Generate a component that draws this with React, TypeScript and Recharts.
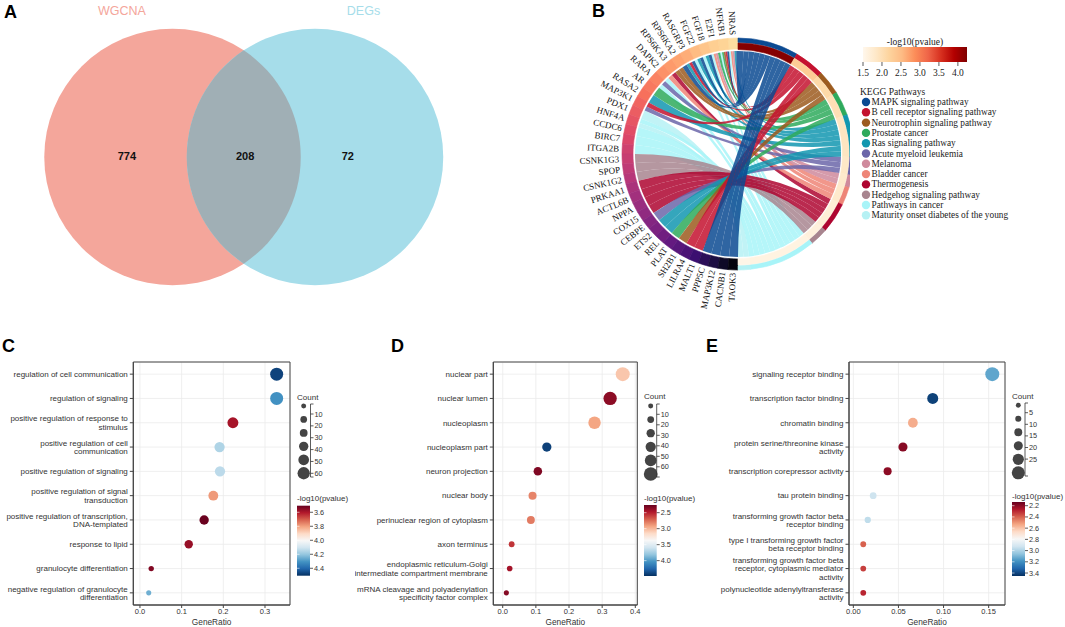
import React from "react";
import {
  ScatterChart,
  Scatter,
  XAxis,
  YAxis,
  ZAxis,
  CartesianGrid,
  ReferenceArea,
  PieChart,
  Pie,
  Cell,
  Customized,
} from "recharts";

const FONT_SANS = "'Liberation Sans', Arial, Helvetica, sans-serif";
const FONT_SERIF = "'Liberation Serif', 'Times New Roman', Times, serif";
const RAD = Math.PI / 180;

// ---------- A: Venn ----------
const vennSets = ["WGCNA", "DEGs"];
const vennSetColors = ["#F4A69B", "#A6DDEA"];
const vennOverlapColor = "#A0AFB5";
const vennRegionCounts = [774, 208, 72];

// ---------- B: KEGG chord ----------
const chordGenes = [
  "NRAS", "NFKB1", "E2F1", "FGF18", "FGF22", "RASGRP3", "RPS6KA2", "RPS6KA3", "DAPK2",
  "RARA", "AR", "RASA2", "MAP3K1", "PDX1", "HNF4A", "CCDC6", "BIRC7", "ITGA2B",
  "CSNK1G3", "SPOP", "CSNK1G2", "PRKAA1", "ACTL6B", "NPPA", "COX15", "CEBPE", "ETS2",
  "REL", "PLAT", "SH2B1", "LILRA4", "MALT1", "PPP5C", "MAP3K12", "CACNB1", "TAOK3",
];
// colour value of each gene segment (0 = black, 1 = pale yellow)
const geneShade = [
  0.93, 0.91, 0.9, 0.88, 0.86, 0.83, 0.81, 0.79, 0.77, 0.74, 0.72, 0.7, 0.67, 0.65, 0.63, 0.61,
  0.59, 0.56, 0.54, 0.52, 0.5, 0.47, 0.45, 0.43, 0.41, 0.38, 0.36, 0.33, 0.3, 0.27, 0.24, 0.2,
  0.16, 0.12, 0.07, 0.02,
];
const keggPathways = [
  "MAPK signaling pathway",
  "B cell receptor signaling pathway",
  "Neurotrophin signaling pathway",
  "Prostate cancer",
  "Ras signaling pathway",
  "Acute myeloid leukemia",
  "Melanoma",
  "Bladder cancer",
  "Thermogenesis",
  "Hedgehog signaling pathway",
  "Pathways in cancer",
  "Maturity onset diabetes of the young",
];
const keggColors = [
  "#0B4A92", "#C4122F", "#9C5B1F", "#2EAA5C", "#1297B0", "#6B66A9",
  "#CF8A9C", "#EE8577", "#AE0530", "#A8858F", "#A8F4F8", "#B6F1F4",
];
const keggLogP = [4.2, 2.3, 2.1, 2.0, 1.9, 1.85, 1.8, 1.8, 1.7, 1.65, 1.6, 1.55];
// pathways (index into keggPathways) that each gene belongs to
const geneLinks = [
  [0, 4, 6, 7, 10], [0, 1, 2, 3, 10], [3, 6, 7, 10], [0, 4, 10], [0, 4, 10], [0, 1, 4],
  [0, 2], [2, 8], [7, 10], [5, 10], [3], [4], [1, 5], [11], [10, 11], [10], [10], [10],
  [9], [9], [9], [8], [8], [8], [8], [5], [4], [4], [3], [2], [1], [1], [0], [0], [0], [0],
];
const pvalTicksB = [1.5, 2.0, 2.5, 3.0, 3.5, 4.0];

// ---------- C: GO BP ----------
const bpTerms = [
  "regulation of cell communication",
  "regulation of signaling",
  "positive regulation of response to\nstimulus",
  "positive regulation of cell\ncommunication",
  "positive regulation of signaling",
  "positive regulation of signal\ntransduction",
  "positive regulation of transcription,\nDNA-templated",
  "response to lipid",
  "granulocyte differentiation",
  "negative regulation of granulocyte\ndifferentiation",
];
const bpRatio = [0.328, 0.328, 0.223, 0.191, 0.192, 0.176, 0.154, 0.117, 0.027, 0.021];
const bpCount = [62, 62, 42, 36, 36, 33, 29, 22, 5, 4];
const bpLogP = [4.47, 4.31, 3.59, 4.16, 4.14, 3.79, 3.51, 3.57, 3.54, 4.25];

// ---------- D: GO CC ----------
const ccTerms = [
  "nuclear part",
  "nuclear lumen",
  "nucleoplasm",
  "nucleoplasm part",
  "neuron projection",
  "nuclear body",
  "perinuclear region of cytoplasm",
  "axon terminus",
  "endoplasmic reticulum-Golgi\nintermediate compartment membrane",
  "mRNA cleavage and polyadenylation\nspecificity factor complex",
];
const ccRatio = [0.362, 0.324, 0.277, 0.133, 0.106, 0.09, 0.085, 0.027, 0.021, 0.011];
const ccCount = [68, 61, 52, 25, 20, 17, 16, 5, 4, 2];
const ccLogP = [3.06, 2.37, 2.93, 4.41, 2.33, 2.82, 2.79, 2.57, 2.44, 2.35];

// ---------- E: GO MF ----------
const mfTerms = [
  "signaling receptor binding",
  "transcription factor binding",
  "chromatin binding",
  "protein serine/threonine kinase\nactivity",
  "transcription corepressor activity",
  "tau protein binding",
  "transforming growth factor beta\nreceptor binding",
  "type I transforming growth factor\nbeta receptor binding",
  "transforming growth factor beta\nreceptor, cytoplasmic mediator\nactivity",
  "polynucleotide adenylyltransferase\nactivity",
];
const mfRatio = [0.154, 0.088, 0.066, 0.055, 0.038, 0.022, 0.016, 0.011, 0.011, 0.011];
const mfCount = [28, 16, 12, 10, 7, 4, 3, 2, 2, 2];
const mfLogP = [3.14, 3.41, 2.55, 2.19, 2.2, 2.93, 2.96, 2.4, 2.34, 2.29];

// ---------- colour helpers ----------
const MAGMA = ["#000004", "#140E36", "#3B0F70", "#641A80", "#8C2981", "#B73779", "#DE4968", "#F7705C", "#FE9F6D", "#FECF92", "#FCFDBF"];
const ORRD = ["#FFF7EC", "#FEE8C8", "#FDD49E", "#FDBB84", "#FC8D59", "#EF6548", "#D7301F", "#B30000", "#7F0000"];
const RDBU = ["#67001F", "#B2182B", "#D6604D", "#F4A582", "#FDDBC7", "#F7F7F7", "#D1E5F0", "#92C5DE", "#4393C3", "#2166AC", "#053061"];
const PB_RANGE = [1.5, 4.24];

function hexRgb(h: string) {
  const n = parseInt(h.slice(1), 16);
  return [(n >> 16) & 255, (n >> 8) & 255, n & 255];
}
function ramp(stops: string[], t: number) {
  const tt = Math.max(0, Math.min(1, t)) * (stops.length - 1);
  const i = Math.min(Math.floor(tt), stops.length - 2);
  const f = tt - i;
  const a = hexRgb(stops[i]);
  const b = hexRgb(stops[i + 1]);
  const c = a.map((v, k) => Math.round(v + (b[k] - v) * f));
  return `rgb(${c[0]},${c[1]},${c[2]})`;
}

// ---------- A ----------
const VENN_W = 480;
const VENN_H = 314;
const VENN_UNIT = 142.5; // px between set centres
const VENN_X0 = 172.5; // px of first centre
const VENN_R = 0.9; // radius, in centre-distance units
const VENN_LABEL_AT = [-0.32, 0.51, 1.23];

function VennPanel() {
  const rPx = VENN_R * VENN_UNIT;
  const half = VENN_UNIT / 2;
  const h = Math.sqrt(rPx * rPx - half * half);
  const sets = vennSets.map((name, i) => ({ x: i, y: 0, name, color: vennSetColors[i] }));
  const lens = [{ x: 0.5, y: 0 }];
  const regions = vennRegionCounts.map((n, i) => ({ x: VENN_LABEL_AT[i], y: 0, n }));
  return (
    <div style={{ position: "absolute", left: 0, top: 0 }}>
      <ScatterChart width={VENN_W} height={VENN_H} margin={{ top: 0, right: 0, bottom: 0, left: 0 }}>
        <XAxis type="number" dataKey="x" domain={[-VENN_X0 / VENN_UNIT, (VENN_W - VENN_X0) / VENN_UNIT]} hide />
        <YAxis type="number" dataKey="y" domain={[-1, 1]} hide />
        <Scatter
          data={sets}
          isAnimationActive={false}
          shape={(p: any) => (
            <g>
              <circle cx={p.cx} cy={p.cy} r={rPx} fill={p.payload.color} />
              <text
                x={p.cx + (p.payload.x === 0 ? -50.5 : 48.5)}
                y={p.cy - 146}
                textAnchor="middle"
                dominantBaseline="central"
                fontSize={12.5}
                fontFamily={FONT_SANS}
                fill={p.payload.color}
              >
                {p.payload.name}
              </text>
            </g>
          )}
        />
        <Scatter
          data={lens}
          isAnimationActive={false}
          shape={(p: any) => (
            <path
              d={`M${p.cx},${p.cy - h} A${rPx},${rPx} 0 0 1 ${p.cx},${p.cy + h} A${rPx},${rPx} 0 0 1 ${p.cx},${p.cy - h} Z`}
              fill={vennOverlapColor}
            />
          )}
        />
        <Scatter
          data={regions}
          isAnimationActive={false}
          shape={(p: any) => (
            <text
              x={p.cx}
              y={p.cy - 1}
              textAnchor="middle"
              dominantBaseline="central"
              fontSize={11}
              fontWeight="bold"
              fontFamily={FONT_SANS}
              fill="#111"
            >
              {p.payload.n}
            </text>
          )}
        />
      </ScatterChart>
    </div>
  );
}

// ---------- B ----------
const CX = 208;
const CY = 154;
const R_CHORD = 103;

const pathCounts = keggPathways.map((_, p) => geneLinks.filter((l) => l.includes(p)).length);

function ChordRibbons() {
  const gu = 180 / chordGenes.length;
  const total = pathCounts.reduce((a, b) => a + b, 0);
  const pu = 180 / total;
  const cum: number[] = [];
  pathCounts.reduce((acc, c, i) => {
    cum[i] = acc;
    return acc + c;
  }, 0);
  const byPath: number[][] = keggPathways.map(() => []);
  geneLinks.forEach((ls, g) => ls.forEach((p) => byPath[p].push(g)));
  const pt = (a: number) => `${(CX + R_CHORD * Math.cos(a * RAD)).toFixed(2)},${(CY - R_CHORD * Math.sin(a * RAD)).toFixed(2)}`;
  const ribbons: { p: number; d: string }[] = [];
  geneLinks.forEach((ls, g) => {
    const sorted = [...ls].sort((a, b) => a - b);
    const n = sorted.length;
    sorted.forEach((p, k) => {
      const a1 = 90 + (g + k / n) * gu;
      const a2 = 90 + (g + (k + 1) / n) * gu;
      const j = byPath[p].indexOf(g);
      const b2 = 90 - (cum[p] + j) * pu;
      const b1 = b2 - pu;
      const d =
        `M${pt(a1)} A${R_CHORD},${R_CHORD} 0 0 0 ${pt(a2)} Q${CX},${CY} ${pt(b1)} ` +
        `A${R_CHORD},${R_CHORD} 0 0 0 ${pt(b2)} Q${CX},${CY} ${pt(a1)} Z`;
      ribbons.push({ p, d });
    });
  });
  ribbons.sort((a, b) => b.p - a.p);
  return (
    <g>
      {ribbons.map((r, i) => (
        <path key={i} d={r.d} fill={keggColors[r.p]} fillOpacity={0.85} stroke="none" />
      ))}
    </g>
  );
}

function geneLabel(props: any) {
  const i = props.index ?? 0;
  const mid = typeof props.midAngle === "number" ? props.midAngle : 90 + (i + 0.5) * (180 / chordGenes.length);
  const cx = typeof props.cx === "number" ? props.cx : CX;
  const cy = typeof props.cy === "number" ? props.cy : CY;
  const rr = 119;
  const x = cx + rr * Math.cos(mid * RAD);
  const y = cy - rr * Math.sin(mid * RAD);
  return (
    <text
      key={`gl-${i}`}
      x={x}
      y={y}
      transform={`rotate(${180 - mid} ${x} ${y})`}
      textAnchor="end"
      dominantBaseline="central"
      fontSize={9}
      fontFamily={FONT_SERIF}
      fill="#111"
    >
      {chordGenes[i]}
    </text>
  );
}

function ChordPanel() {
  const geneData = chordGenes.map((name, i) => ({ name, value: 1, fill: ramp(MAGMA, geneShade[i]) }));
  const pathData = keggPathways.map((name, i) => ({
    name,
    value: pathCounts[i],
    color: keggColors[i],
    pcol: ramp(ORRD, (keggLogP[i] - PB_RANGE[0]) / (PB_RANGE[1] - PB_RANGE[0])),
  }));
  return (
    <div style={{ position: "absolute", left: 530, top: 0 }}>
      <PieChart width={320} height={322} margin={{ top: 0, right: 0, bottom: 0, left: 0 }}>
        <Customized component={<ChordRibbons />} />
        <Pie
          data={geneData}
          dataKey="value"
          cx={CX}
          cy={CY}
          startAngle={90}
          endAngle={270}
          innerRadius={105}
          outerRadius={116}
          isAnimationActive={false}
          label={geneLabel}
          labelLine={false}
        >
          {geneData.map((d, i) => (
            <Cell key={i} fill={d.fill} stroke={d.fill} strokeWidth={0.6} />
          ))}
        </Pie>
        <Pie
          data={pathData}
          dataKey="value"
          cx={CX}
          cy={CY}
          startAngle={90}
          endAngle={-90}
          innerRadius={111.5}
          outerRadius={116}
          isAnimationActive={false}
        >
          {pathData.map((d, i) => (
            <Cell key={i} fill={d.color} stroke={d.color} strokeWidth={0.6} />
          ))}
        </Pie>
        <Pie
          data={pathData}
          dataKey="value"
          cx={CX}
          cy={CY}
          startAngle={90}
          endAngle={-90}
          innerRadius={104.5}
          outerRadius={111}
          isAnimationActive={false}
        >
          {pathData.map((d, i) => (
            <Cell key={i} fill={d.pcol} stroke={d.pcol} strokeWidth={0.6} />
          ))}
        </Pie>
      </PieChart>
    </div>
  );
}

// ---------- C / D / E dot plots ----------
type DotCfg = {
  left: number;
  width: number;
  yWidth: number;
  right: number;
  terms: string[];
  ratio: number[];
  count: number[];
  logp: number[];
  xDomain: [number, number];
  xTicks: number[];
  digits: number;
  pRange: [number, number];
  pTicks: number[];
  zDomain: [number, number];
  zRange: [number, number];
  sizeKeys: number[];
  sizeTicks: number[];
  lg: {
    x: number;
    circleX: number;
    circleY0: number;
    circleDy: number;
    lineX: number;
    lineY: [number, number];
    labelY0: number;
    labelDy: number;
    barW: number;
    barY: number;
    barH: number;
    titleY: number;
    barTitleY: number;
  };
};

const panelC: DotCfg = {
  left: 0, width: 295, yWidth: 133.3, right: 5,
  terms: bpTerms, ratio: bpRatio, count: bpCount, logp: bpLogP,
  xDomain: [-0.016, 0.36], xTicks: [0, 0.1, 0.2, 0.3], digits: 1,
  pRange: [3.506, 4.506], pTicks: [3.6, 3.8, 4.0, 4.2, 4.4],
  zDomain: [0, 62], zRange: [11.8, 133],
  sizeKeys: [4, 12, 18, 29, 40, 55], sizeTicks: [10, 20, 30, 40, 50, 60],
  lg: {
    x: 297, circleX: 303.7, circleY0: 406, circleDy: 13.45, lineX: 310.5, lineY: [404, 477],
    labelY0: 414, labelDy: 11.86, barW: 13, barY: 505.7, barH: 70, titleY: 397.7, barTitleY: 498.3,
  },
};

const panelD: DotCfg = {
  left: 355, width: 290, yWidth: 138.3, right: 7.7,
  terms: ccTerms, ratio: ccRatio, count: ccCount, logp: ccLogP,
  xDomain: [-0.0284, 0.406], xTicks: [0, 0.1, 0.2, 0.3, 0.4], digits: 1,
  pRange: [2.26, 4.48], pTicks: [2.5, 3.0, 3.5, 4.0],
  zDomain: [0, 68], zRange: [15.5, 154],
  sizeKeys: [2, 10, 19, 33, 45, 65], sizeTicks: [10, 20, 30, 40, 50, 60],
  lg: {
    x: 644, circleX: 650.7, circleY0: 406, circleDy: 13.6, lineX: 656.7, lineY: [404, 477],
    labelY0: 414.3, labelDy: 10.5, barW: 12.7, barY: 505, barH: 71, titleY: 396.7, barTitleY: 498.3,
  },
};

const panelE: DotCfg = {
  left: 700, width: 310, yWidth: 149, right: 5,
  terms: mfTerms, ratio: mfRatio, count: mfCount, logp: mfLogP,
  xDomain: [-0.0048, 0.1681], xTicks: [0, 0.05, 0.1, 0.15], digits: 2,
  pRange: [2.134, 3.453], pTicks: [2.2, 2.4, 2.6, 2.8, 3.0, 3.2, 3.4],
  zDomain: [0, 28], zRange: [13.8, 154],
  sizeKeys: [1, 3, 7, 10, 17, 24], sizeTicks: [5, 10, 15, 20, 25],
  lg: {
    x: 1012, circleX: 1018.3, circleY0: 405.3, circleDy: 13.5, lineX: 1025, lineY: [403, 476],
    labelY0: 412.7, labelDy: 11.6, barW: 13, barY: 502, barH: 74, titleY: 396, barTitleY: 496.7,
  },
};

const dotColor = (v: number, range: [number, number]) => ramp(RDBU, (v - range[0]) / (range[1] - range[0]));

function TermTick(props: any) {
  const { x, y, payload, labels } = props;
  const lines = String(labels[payload.value] ?? "").split("\n");
  const lh = 8.3;
  const y0 = y - ((lines.length - 1) * lh) / 2;
  return (
    <text x={x} y={y0} textAnchor="end" fontSize={8} fill="#333" fontFamily={FONT_SANS}>
      {lines.map((ln, i) => (
        <tspan key={i} x={x} y={y0 + i * lh} dy="0.35em">
          {ln}
        </tspan>
      ))}
    </text>
  );
}

function Dot(props: any) {
  const { cx, cy, width, size, payload } = props;
  const r = typeof width === "number" && width > 0 ? width / 2 : Math.sqrt((size || 30) / Math.PI);
  return <circle cx={cx} cy={cy} r={r} fill={payload.fill} />;
}

function DotPanel({ cfg }: { cfg: DotCfg }) {
  const rows = cfg.terms.map((term, i) => ({
    term,
    row: i,
    ratio: cfg.ratio[i],
    count: cfg.count[i],
    fill: dotColor(cfg.logp[i], cfg.pRange),
  }));
  const yTicks = cfg.terms.map((_, i) => i);
  const yMax = cfg.terms.length - 0.5;
  return (
    <div style={{ position: "absolute", left: cfg.left, top: 330, width: cfg.width, height: 297, overflow: "hidden" }}>
      <ScatterChart width={cfg.width} height={297} margin={{ top: 32, right: cfg.right, bottom: 0, left: 0 }}>
        <CartesianGrid stroke="#EBEBEB" strokeWidth={0.8} />
        <XAxis
          type="number"
          dataKey="ratio"
          domain={cfg.xDomain}
          ticks={cfg.xTicks}
          interval={0}
          tickFormatter={(v: number) => v.toFixed(cfg.digits)}
          height={22}
          tickSize={3}
          tickMargin={1}
          stroke="#444"
          tick={{ fontSize: 7.5, fill: "#333", fontFamily: FONT_SANS }}
          label={{ value: "GeneRatio", position: "insideBottom", offset: 2.5, fontSize: 8.3, fill: "#333", fontFamily: FONT_SANS }}
        />
        <YAxis
          type="number"
          dataKey="row"
          domain={[-0.5, yMax]}
          reversed
          ticks={yTicks}
          interval={0}
          width={cfg.yWidth}
          tickSize={3.5}
          tickMargin={2}
          stroke="#444"
          tick={(p: any) => <TermTick {...p} labels={cfg.terms} />}
        />
        <ZAxis type="number" dataKey="count" domain={cfg.zDomain} range={cfg.zRange} />
        <ReferenceArea
          x1={cfg.xDomain[0]}
          x2={cfg.xDomain[1]}
          y1={-0.5}
          y2={yMax}
          fill="none"
          stroke="#444"
          strokeWidth={1}
          ifOverflow="extendDomain"
        />
        <Scatter data={rows} isAnimationActive={false} shape={Dot} />
      </ScatterChart>
    </div>
  );
}

function DotLegend({ cfg }: { cfg: DotCfg }) {
  const L = cfg.lg;
  const area = (v: number) =>
    cfg.zRange[0] + ((v - cfg.zDomain[0]) / (cfg.zDomain[1] - cfg.zDomain[0])) * (cfg.zRange[1] - cfg.zRange[0]);
  const barY = (v: number) => L.barY + ((v - cfg.pRange[0]) / (cfg.pRange[1] - cfg.pRange[0])) * L.barH;
  const txt = { fontFamily: FONT_SANS, fill: "#333" };
  return (
    <g>
      <text x={L.x} y={L.titleY} fontSize={8} dominantBaseline="central" {...txt}>
        Count
      </text>
      {cfg.sizeKeys.map((v, i) => (
        <circle key={i} cx={L.circleX} cy={L.circleY0 + i * L.circleDy} r={Math.sqrt(area(v) / Math.PI)} fill="#444" />
      ))}
      <path
        d={`M${L.lineX + 3},${L.lineY[0]} H${L.lineX} V${L.lineY[1]} H${L.lineX + 3}`}
        fill="none"
        stroke="#333"
        strokeWidth={0.8}
      />
      {cfg.sizeTicks.map((v, i) => {
        const y = L.labelY0 + i * L.labelDy;
        return (
          <g key={i}>
            <line x1={L.lineX} x2={L.lineX + 3} y1={y} y2={y} stroke="#333" strokeWidth={0.8} />
            <text x={L.lineX + 4} y={y} fontSize={7.3} dominantBaseline="central" {...txt}>
              {v}
            </text>
          </g>
        );
      })}
      <text x={L.x} y={L.barTitleY} fontSize={8} dominantBaseline="central" {...txt}>
        -log10(pvalue)
      </text>
      <rect x={L.x} y={L.barY} width={L.barW} height={L.barH} fill="url(#rdbuV)" />
      {cfg.pTicks.map((v, i) => {
        const y = barY(v);
        return (
          <g key={i}>
            <line x1={L.x} x2={L.x + 2.5} y1={y} y2={y} stroke="#fff" strokeWidth={0.6} />
            <line x1={L.x + L.barW} x2={L.x + L.barW + 3} y1={y} y2={y} stroke="#333" strokeWidth={0.8} />
            <text x={L.x + L.barW + 4} y={y} fontSize={7.3} dominantBaseline="central" {...txt}>
              {v.toFixed(1)}
            </text>
          </g>
        );
      })}
    </g>
  );
}

function Overlay() {
  const letter = { fontFamily: FONT_SANS, fontWeight: "bold" as const, fontSize: 18, fill: "#000" };
  const bx = (v: number) => 863 + ((v - PB_RANGE[0]) / (PB_RANGE[1] - PB_RANGE[0])) * 104;
  const serif = { fontFamily: FONT_SERIF, fill: "#222" };
  return (
    <svg
      width={1065}
      height={627}
      style={{ position: "absolute", left: 0, top: 0, pointerEvents: "none" }}
    >
      <defs>
        <linearGradient id="rdbuV" x1="0" y1="0" x2="0" y2="1">
          {RDBU.map((c, i) => (
            <stop key={i} offset={i / (RDBU.length - 1)} stopColor={c} />
          ))}
        </linearGradient>
        <linearGradient id="orrdH" x1="0" y1="0" x2="1" y2="0">
          {ORRD.map((c, i) => (
            <stop key={i} offset={i / (ORRD.length - 1)} stopColor={c} />
          ))}
        </linearGradient>
      </defs>
      <text x={4} y={18} {...letter}>A</text>
      <text x={592} y={17} {...letter}>B</text>
      <text x={2} y={352} {...letter}>C</text>
      <text x={391} y={352} {...letter}>D</text>
      <text x={706} y={352} {...letter}>E</text>

      {/* B legends */}
      <text x={915} y={42} textAnchor="middle" dominantBaseline="central" fontSize={9.5} {...serif}>
        -log10(pvalue)
      </text>
      <rect x={863} y={47} width={104} height={15} fill="url(#orrdH)" />
      {pvalTicksB.map((v, i) => (
        <g key={i}>
          <line x1={bx(v)} x2={bx(v)} y1={62} y2={66} stroke="#333" strokeWidth={0.8} />
          <text x={bx(v)} y={73} textAnchor="middle" dominantBaseline="central" fontSize={9.5} {...serif}>
            {v.toFixed(1)}
          </text>
        </g>
      ))}
      <text x={860} y={91.7} dominantBaseline="central" fontSize={9.5} {...serif}>
        KEGG Pathways
      </text>
      {keggPathways.map((name, i) => (
        <g key={i}>
          <circle cx={866} cy={102 + i * 10.3} r={4.2} fill={keggColors[i]} />
          <text x={871.5} y={102 + i * 10.3} dominantBaseline="central" fontSize={9.3} {...serif}>
            {name}
          </text>
        </g>
      ))}

      <DotLegend cfg={panelC} />
      <DotLegend cfg={panelD} />
      <DotLegend cfg={panelE} />
    </svg>
  );
}

export default function App() {
  return (
    <div style={{ position: "absolute", left: 0, top: 0, width: 1065, height: 627, background: "#fff", overflow: "hidden" }}>
      <VennPanel />
      <ChordPanel />
      <DotPanel cfg={panelC} />
      <DotPanel cfg={panelD} />
      <DotPanel cfg={panelE} />
      <Overlay />
    </div>
  );
}
